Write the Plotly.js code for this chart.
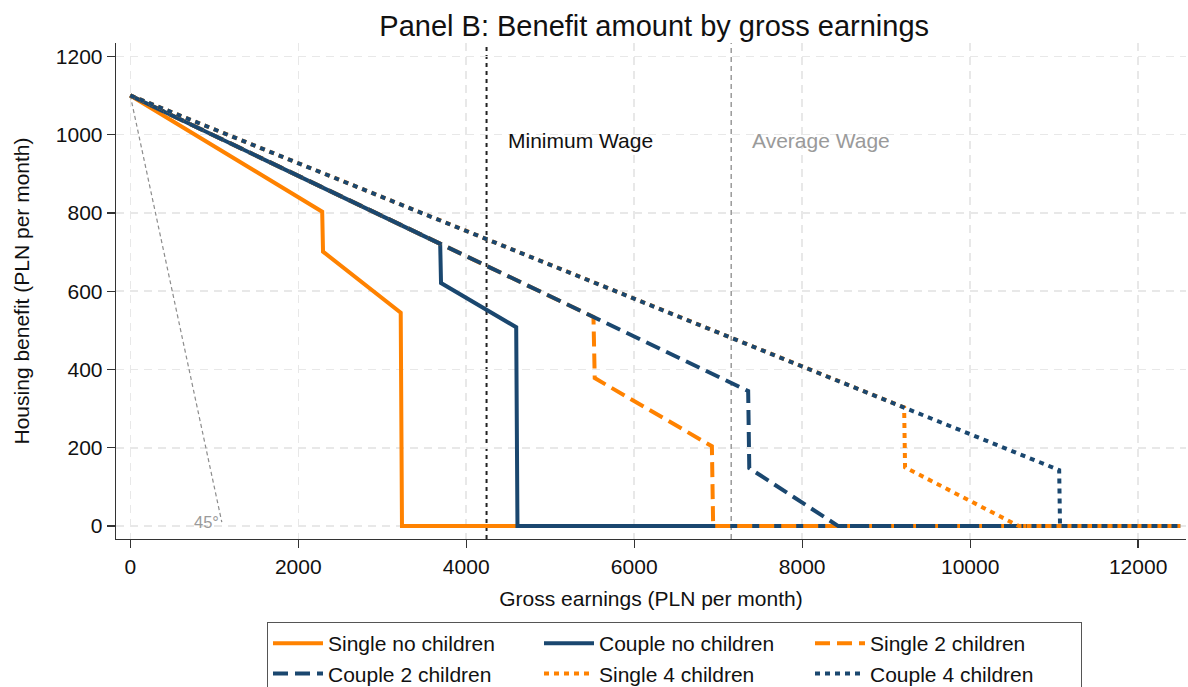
<!DOCTYPE html>
<html>
<head>
<meta charset="utf-8">
<script src="https://cdn.plot.ly/plotly-3.0.1.min.js"></script>
<style>
  html, body { margin: 0; padding: 0; background: #ffffff; }
  #chart { width: 1188px; height: 687px; }
</style>
</head>
<body>
<div id="chart"></div>
<script>
// ---- data ----
const seriesNames = ["Single no children", "Couple no children", "Single 2 children",
                     "Couple 2 children", "Single 4 children", "Couple 4 children"];

const singleNoChildrenX = [0, 2285, 2295, 3220, 3235, 12500];
const singleNoChildrenY = [1100, 803, 701, 545, 0, 0];

const coupleNoChildrenX = [0, 3690, 3700, 4595, 4610, 12500];
const coupleNoChildrenY = [1100, 721, 621, 508, 0, 0];

const single2ChildrenX = [0, 5515, 5530, 6925, 6940, 12500];
const single2ChildrenY = [1100, 534, 378, 204, 0, 0];

const couple2ChildrenX = [0, 7357, 7370, 8430, 12500];
const couple2ChildrenY = [1100, 345, 148, 0, 0];

const single4ChildrenX = [0, 9214, 9225, 10580, 12500];
const single4ChildrenY = [1100, 303, 150, 0, 0];

const couple4ChildrenX = [0, 11060, 11070, 12500];
const couple4ChildrenY = [1100, 143, 0, 0];

const line45X = [0, 1090];
const line45Y = [1100, 10];

const minimumWage = 4242;
const averageWage = 7155;
const wageLabelY = 986;

const xTicks = [0, 2000, 4000, 6000, 8000, 10000, 12000];
const yTicks = [0, 200, 400, 600, 800, 1000, 1200];

// ---- styles ----
const ORANGE = "#ff8200";
const NAVY = "#1a476f";
const FONT = "Liberation Sans, Arial, sans-serif";

function series(x, y, name, color, dash) {
  return {
    type: "scatter", mode: "lines", x: x, y: y, name: name,
    line: { color: color, width: 4, dash: dash },
    hoverinfo: "skip"
  };
}

const traces = [
  {
    type: "scatter", mode: "lines", x: line45X, y: line45Y, showlegend: false,
    line: { color: "#8c8c8c", width: 1.2, dash: "4px,3px" }, hoverinfo: "skip"
  },
  series(singleNoChildrenX, singleNoChildrenY, seriesNames[0], ORANGE, "solid"),
  series(coupleNoChildrenX, coupleNoChildrenY, seriesNames[1], NAVY, "solid"),
  series(single2ChildrenX, single2ChildrenY, seriesNames[2], ORANGE, "15px,7px"),
  series(couple2ChildrenX, couple2ChildrenY, seriesNames[3], NAVY, "15px,7px"),
  series(single4ChildrenX, single4ChildrenY, seriesNames[4], ORANGE, "5px,5px"),
  series(couple4ChildrenX, couple4ChildrenY, seriesNames[5], NAVY, "5px,5px")
];

const layout = {
  width: 1188, height: 687,
  margin: { l: 116, r: 2, t: 43, b: 148, autoexpand: false },
  paper_bgcolor: "#ffffff", plot_bgcolor: "#ffffff",
  font: { family: FONT, size: 21, color: "#111111" },
  title: {
    text: "Panel B: Benefit amount by gross earnings",
    font: { family: FONT, size: 29, color: "#111111" },
    x: 0.503, xref: "paper", xanchor: "center",
    y: 1 - 26 / 687, yref: "container", yanchor: "middle"
  },
  xaxis: {
    range: [-170, 12570], tickvals: xTicks, ticktext: xTicks.map(String),
    showline: true, linecolor: "#333333", linewidth: 1.3,
    ticks: "outside", ticklen: 8, tickwidth: 1.3, tickcolor: "#333333",
    showgrid: true, gridcolor: "#e8e8e8", gridwidth: 1.5, griddash: "8px,6px",
    zeroline: false,
    tickfont: { family: FONT, size: 21, color: "#111111" },
    title: { text: "Gross earnings (PLN per month)", standoff: 14,
             font: { family: FONT, size: 21, color: "#111111" } }
  },
  yaxis: {
    range: [-33, 1234], tickvals: yTicks, ticktext: yTicks.map(String),
    showline: true, linecolor: "#333333", linewidth: 1.3,
    ticks: "outside", ticklen: 8, tickwidth: 1.3, tickcolor: "#333333",
    showgrid: true, gridcolor: "#e8e8e8", gridwidth: 1.5, griddash: "8px,6px",
    zeroline: false,
    tickfont: { family: FONT, size: 21, color: "#111111" },
    title: { text: "Housing benefit (PLN per month)", standoff: 20,
             font: { family: FONT, size: 21, color: "#111111" } }
  },
  shapes: [
    { type: "line", xref: "x", yref: "paper", x0: minimumWage, x1: minimumWage, y0: 0, y1: 1,
      line: { color: "#222222", width: 2, dash: "4px,4px" }, layer: "between" },
    { type: "line", xref: "x", yref: "paper", x0: averageWage, x1: averageWage, y0: 0, y1: 1,
      line: { color: "#9a9a9a", width: 1.5, dash: "5px,4px" }, layer: "between" }
  ],
  annotations: [
    { x: minimumWage, y: wageLabelY, xref: "x", yref: "y", text: "Minimum Wage",
      xanchor: "left", yanchor: "middle", xshift: 19, showarrow: false,
      font: { family: FONT, size: 21, color: "#111111" } },
    { x: averageWage, y: wageLabelY, xref: "x", yref: "y", text: "Average Wage",
      xanchor: "left", yanchor: "middle", xshift: 19, showarrow: false,
      font: { family: FONT, size: 21, color: "#9a9a9a" } },
    { x: line45X[1], y: line45Y[1], xref: "x", yref: "y", text: "45°",
      xanchor: "right", yanchor: "middle", xshift: -1, yshift: 0, showarrow: false,
      font: { family: FONT, size: 16.5, color: "#9a9a9a" } }
  ],
  legend: {
    orientation: "h", x: 151 / 1070, xanchor: "left", y: -83 / 496, yanchor: "top",
    xref: "paper", yref: "paper",
    bgcolor: "#ffffff", bordercolor: "#555555", borderwidth: 1,
    font: { family: FONT, size: 21, color: "#111111" },
    itemwidth: 50,
    entrywidth: 206, entrywidthmode: "pixels", traceorder: "normal"
  },
  showlegend: true
};

Plotly.newPlot("chart", traces, layout, { displayModeBar: false, staticPlot: true });
</script>
</body>
</html>
